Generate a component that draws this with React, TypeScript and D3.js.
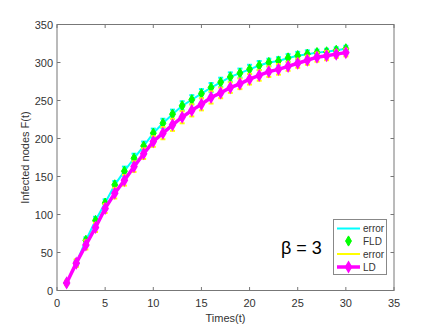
import * as d3 from 'd3'
import { useEffect, useRef } from 'react';

const times = d3.range(1, 31);
const fld = [10, 36, 66, 92, 115, 139, 157, 174, 190, 207, 220, 232, 243, 251, 259, 267, 274, 281, 286, 291, 296, 300, 302, 306, 309, 311, 313, 314, 316, 318];
const fldErr = [2, 4, 4, 5, 5, 5, 6, 6, 6, 6, 6, 6, 6, 6, 6, 6, 6, 6, 6, 6, 6, 5, 5, 5, 5, 5, 4, 4, 4, 4];
const ld = [10, 36, 60, 83, 108, 128, 145, 163, 180, 196, 207, 218, 228, 237, 245, 254, 260, 267, 272, 278, 283, 288, 291, 295, 299, 303, 307, 309, 311, 313];
const ldErr = [3, 5, 6, 6, 6, 7, 7, 7, 7, 7, 8, 8, 8, 8, 8, 8, 7, 7, 7, 7, 7, 7, 7, 6, 6, 6, 6, 6, 5, 5];
const xTicks = [0, 5, 10, 15, 20, 25, 30, 35];
const yTicks = [0, 50, 100, 150, 200, 250, 300, 350];
const legendLabels = ['error', 'FLD', 'error', 'LD'];

function drawChart(svgEl) {
    const svg = d3.select(svgEl);
    svg.selectAll('*').remove();
    const L = 57, R = 394, T = 24.5, B = 290.5;
    const x = d3.scaleLinear().domain([0, 35]).range([L, R]);
    const y = d3.scaleLinear().domain([0, 350]).range([B, T]);
    const font = 'Liberation Sans, Arial, sans-serif';
    const axisCol = '#777';

    // box + ticks
    svg.append('rect').attr('x', L).attr('y', T).attr('width', R - L).attr('height', B - T)
        .attr('fill', 'white').attr('stroke', axisCol).attr('stroke-width', 1);
    const g = svg.append('g');
    xTicks.forEach(t => {
        g.append('line').attr('x1', x(t)).attr('x2', x(t)).attr('y1', B).attr('y2', B - 3.5).attr('stroke', axisCol);
        g.append('line').attr('x1', x(t)).attr('x2', x(t)).attr('y1', T).attr('y2', T + 3.5).attr('stroke', axisCol);
        g.append('text').attr('x', x(t)).attr('y', B + 16).attr('text-anchor', 'middle')
            .attr('font-family', font).attr('font-size', 11).attr('fill', '#333').text(t);
    });
    yTicks.forEach(t => {
        g.append('line').attr('x1', L).attr('x2', L + 3.5).attr('y1', y(t)).attr('y2', y(t)).attr('stroke', axisCol);
        g.append('line').attr('x1', R).attr('x2', R - 3.5).attr('y1', y(t)).attr('y2', y(t)).attr('stroke', axisCol);
        g.append('text').attr('x', L - 4).attr('y', y(t) + 4).attr('text-anchor', 'end')
            .attr('font-family', font).attr('font-size', 11).attr('fill', '#333').text(t);
    });
    svg.append('text').attr('x', (L + R) / 2).attr('y', 322).attr('text-anchor', 'middle')
        .attr('font-family', font).attr('font-size', 11).attr('fill', '#333').text('Times(t)');
    svg.append('text').attr('transform', `translate(29,${(T + B) / 2}) rotate(-90)`).attr('text-anchor', 'middle')
        .attr('font-family', font).attr('font-size', 11).attr('fill', '#333').text('Infected nodes F(t)');

    const line = d3.line().x((d, i) => x(times[i])).y(d => y(d));
    const errBars = (vals, errs, color) => {
        const eg = svg.append('g').attr('stroke', color).attr('stroke-width', 2);
        vals.forEach((v, i) => {
            const cx = x(times[i]);
            eg.append('line').attr('x1', cx).attr('x2', cx).attr('y1', y(v - errs[i])).attr('y2', y(v + errs[i]));
            eg.append('line').attr('x1', cx - 2.5).attr('x2', cx + 2.5).attr('y1', y(v - errs[i])).attr('y2', y(v - errs[i]));
            eg.append('line').attr('x1', cx - 2.5).attr('x2', cx + 2.5).attr('y1', y(v + errs[i])).attr('y2', y(v + errs[i]));
        });
        svg.append('path').attr('d', line(vals)).attr('fill', 'none').attr('stroke', color).attr('stroke-width', 2);
    };
    const diamond = d3.symbol().type(d3.symbolDiamond).size(30);

    // FLD error + markers
    errBars(fld, fldErr, '#00ffff');
    svg.append('g').selectAll('path').data(fld).enter().append('path')
        .attr('d', diamond).attr('transform', (d, i) => `translate(${x(times[i])},${y(d)})`)
        .attr('fill', '#00ff00').attr('stroke', '#00ff00');

    // LD error + line
    errBars(ld, ldErr, '#ffff00');
    svg.append('path').attr('d', line(ld)).attr('fill', 'none').attr('stroke', '#ff00ff').attr('stroke-width', 3.5);
    svg.append('g').selectAll('path').data(ld).enter().append('path')
        .attr('d', diamond).attr('transform', (d, i) => `translate(${x(times[i])},${y(d)})`)
        .attr('fill', '#ff00ff').attr('stroke', '#ff00ff').attr('stroke-width', 1.5);

    // beta text
    svg.append('text').attr('x', 281).attr('y', 254).attr('font-family', font).attr('font-size', 18)
        .attr('fill', 'black').text('β = 3');

    // legend
    const lg = svg.append('g');
    lg.append('rect').attr('x', 333.5).attr('y', 219.5).attr('width', 53).attr('height', 55)
        .attr('fill', 'white').attr('stroke', '#888');
    const ys = [228.5, 241, 254, 267];
    const cols = ['#00ffff', '#00ff00', '#ffff00', '#ff00ff'];
    legendLabels.forEach((lab, i) => {
        const ly = ys[i];
        if (i !== 1) {
            lg.append('line').attr('x1', 337).attr('x2', 360).attr('y1', ly).attr('y2', ly)
                .attr('stroke', cols[i]).attr('stroke-width', i === 3 ? 3.5 : 2);
        }
        if (i === 1 || i === 3) {
            lg.append('path').attr('d', diamond).attr('transform', `translate(348.5,${ly})`)
                .attr('fill', cols[i]).attr('stroke', cols[i]).attr('stroke-width', i === 3 ? 1.5 : 1);
        }
        lg.append('text').attr('x', 363).attr('y', ly + 3.5).attr('font-family', font).attr('font-size', 10)
            .attr('fill', '#333').text(lab);
    });
}

function App() {
    const ref = useRef(null);
    useEffect(() => {
        drawChart(ref.current);
    });
    return (
        <svg ref={ref} width="436" height="327" style={{ position: 'absolute', left: 0, top: 0, background: 'white' }}>
        </svg>
    );
}

export default App;
